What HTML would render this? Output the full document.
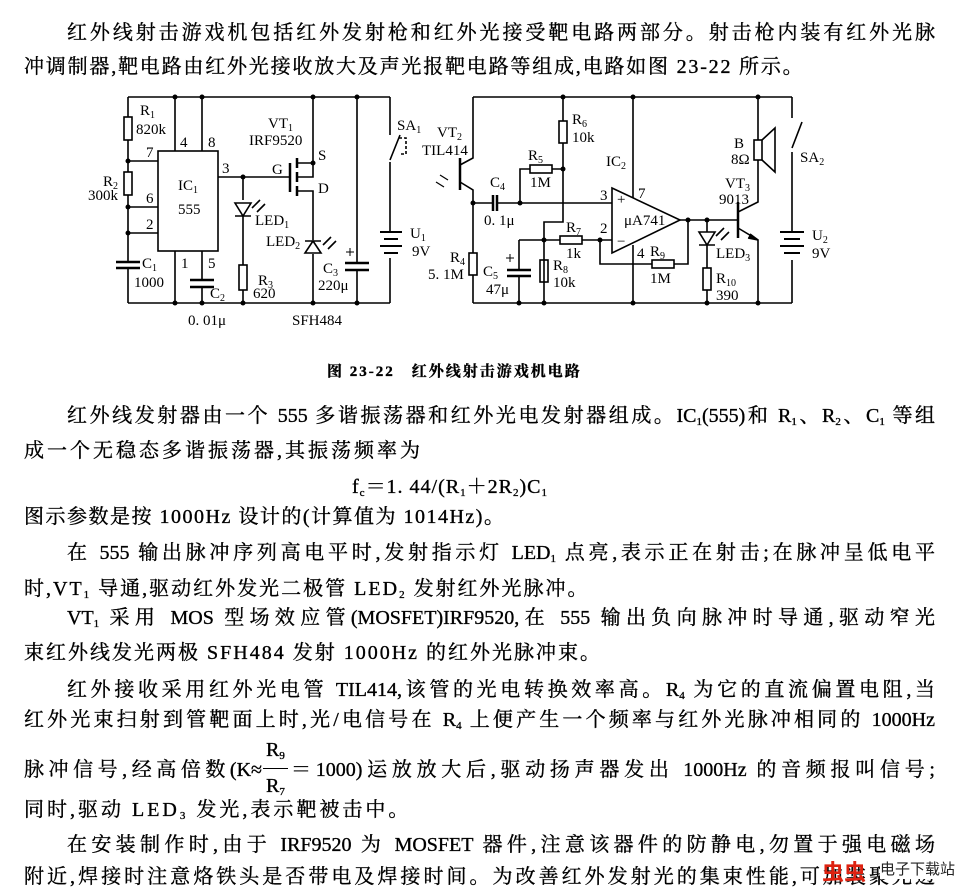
<!DOCTYPE html>
<html><head><meta charset="utf-8">
<style>
html,body{margin:0;padding:0;background:#fff;}
body{width:960px;height:890px;position:relative;overflow:hidden;font-family:"Liberation Serif","Noto Serif CJK SC","Noto Sans CJK SC",serif;color:#000;}
.l{position:absolute;font-size:20px;line-height:24px;white-space:nowrap;letter-spacing:3px;-webkit-text-stroke:0.35px #000;}
.j{text-align:justify;text-align-last:justify;letter-spacing:0;white-space:normal;overflow:hidden;height:24px;}
sub{font-size:11px;vertical-align:-3px;line-height:0;}
svg text{font-family:"Liberation Serif",serif;font-size:15px;}
</style></head><body>
<div class="l j" style="left:67px;top:21px;width:868px;">红外线射击游戏机包括红外发射枪和红外光接受靶电路两部分。射击枪内装有红外光脉</div>
<div class="l" style="left:24px;top:55px;letter-spacing:1.8px;">冲调制器,靶电路由红外光接收放大及声光报靶电路等组成,电路如图 23-22 所示。</div>

<svg style="position:absolute;left:0;top:0" width="960" height="340" viewBox="0 0 960 340" fill="none" stroke="#000" stroke-width="1.6">
<path d="M128 97 H390 M128 303 H390"/>
<path d="M128 97 V117 M128 140 V172 M128 195 V262 M128 268 V303"/>
<rect x="124" y="117" width="8" height="23"/><rect x="124" y="172" width="8" height="23"/>
<path d="M116 262 H140 M116 268 H140" stroke-width="2.5"/>
<path d="M128 161 H158 M128 207 H158 M128 233 H158"/>
<rect x="158" y="151" width="60" height="100"/>
<path d="M175 97 V151 M202 97 V151 M175 251 V303 M202 251 V280 M202 287 V303"/>
<path d="M190 280 H214 M190 287 H214" stroke-width="2.5"/>
<path d="M218 177 H290 M243 177 V200 M243 216 V265 M243 290 V303"/>
<rect x="239" y="265" width="8" height="25"/>
<path d="M235 203 H251 L243 216 Z M235 216 H251"/>
<path d="M252 208 l8 -8 M257 212 l8 -8"/>
<path d="M290 163 V192" stroke-width="2.5"/>
<path d="M297 158 V168 M297 172 V182 M297 186 V196" stroke-width="2.5"/>
<path d="M297 163 H313 V97 M297 191 H313 V240 M313 254 V303 M297 177 H313 V163"/>
<path d="M305 253 H321 L313 241 Z M305 241 H321"/>
<path d="M323 245 l8 -8 M328 249 l8 -8"/>
<path d="M357 97 V263 M357 270 V303"/>
<path d="M345 263 H369 M345 270 H369" stroke-width="2.5"/>
<path d="M346 252 h8 M350 248 v8" stroke-width="1"/>
<path d="M390 97 V135 M390 160 L400 135 M390 162 V232 M390 258 V303"/>
<path d="M399 138 h7 v16 h-7" stroke-dasharray="3 2"/>
<path d="M380 232 H402 M384 239 H398 M380 246 H402 M384 253 H398" stroke-width="2"/>
<path d="M473 97 H792 M473 303 H792"/>
<path d="M473 97 V158 L460 165 M460 182 L473 190 V253 M473 275 V303"/>
<path d="M460 158 V190" stroke-width="2.5"/>
<rect x="469" y="253" width="8" height="22"/>
<path d="M440 175 l8 5 M436 182 l8 5" stroke-width="1.2"/>
<path d="M473 203 H493 M497 203 H612"/>
<path d="M493 195 V211 M497 195 V211" stroke-width="2.5"/>
<path d="M520 203 V169 H530 M552 169 H563 M563 97 V121 M563 143 V222 H544 V303"/>
<rect x="530" y="165" width="22" height="8"/><rect x="559" y="121" width="8" height="22"/>
<path d="M519 240 H560 M582 240 H612 M519 240 V270 M519 276 V303"/>
<path d="M507 270 H531 M507 276 H531" stroke-width="2.5"/>
<path d="M506 258 h8 M510 254 v8" stroke-width="1"/>
<rect x="560" y="236" width="22" height="8"/><rect x="540" y="260" width="8" height="22"/>
<path d="M612 188 L680 220 L612 253 Z"/>
<path d="M600 240 V264 H652 M674 264 H688 V220 M680 220 H738"/>
<rect x="652" y="260" width="22" height="8"/>
<path d="M633 97 V198 M633 245 V303"/>
<path d="M707 220 V232 M707 245 V268 M707 290 V303"/>
<path d="M699 232 H715 L707 245 Z M699 245 H715"/>
<path d="M716 236 l8 -8 M721 240 l8 -8"/>
<rect x="703" y="268" width="8" height="22"/>
<path d="M738 202 V238" stroke-width="2.5"/>
<path d="M738 212 L758 202 V160 M758 140 V97 M738 228 L758 240 V303"/>
<path d="M750 234 L758 240 L748 238" fill="#000"/>
<rect x="754" y="140" width="8" height="20"/>
<path d="M762 140 L775 128 V172 L762 160"/>
<path d="M792 97 V118 M792 148 L802 122 M792 152 V232 M792 260 V303"/>
<path d="M780 232 H804 M784 239 H800 M780 246 H804 M784 253 H800" stroke-width="2"/>
<g fill="#000" stroke="none">
<circle cx="175" cy="97" r="2.5"/><circle cx="202" cy="97" r="2.5"/><circle cx="313" cy="97" r="2.5"/><circle cx="357" cy="97" r="2.5"/>
<circle cx="128" cy="161" r="2.5"/><circle cx="128" cy="207" r="2.5"/><circle cx="128" cy="233" r="2.5"/><circle cx="243" cy="177" r="2.5"/><circle cx="313" cy="163" r="2.5"/>
<circle cx="175" cy="303" r="2.5"/><circle cx="202" cy="303" r="2.5"/><circle cx="243" cy="303" r="2.5"/><circle cx="313" cy="303" r="2.5"/><circle cx="357" cy="303" r="2.5"/>
<circle cx="563" cy="97" r="2.5"/><circle cx="633" cy="97" r="2.5"/><circle cx="758" cy="97" r="2.5"/>
<circle cx="563" cy="169" r="2.5"/><circle cx="473" cy="203" r="2.5"/><circle cx="520" cy="203" r="2.5"/><circle cx="544" cy="240" r="2.5"/><circle cx="600" cy="240" r="2.5"/><circle cx="688" cy="220" r="2.5"/><circle cx="707" cy="220" r="2.5"/>
<circle cx="519" cy="303" r="2.5"/><circle cx="544" cy="303" r="2.5"/><circle cx="633" cy="303" r="2.5"/><circle cx="707" cy="303" r="2.5"/><circle cx="758" cy="303" r="2.5"/>
<text x="140" y="115">R<tspan font-size="10" dy="3">1</tspan></text><text x="136" y="134">820k</text>
<text x="103" y="186">R<tspan font-size="10" dy="3">2</tspan></text><text x="88" y="200">300k</text>
<text x="146" y="157">7</text><text x="146" y="203">6</text><text x="146" y="229">2</text>
<text x="180" y="147">4</text><text x="208" y="147">8</text><text x="222" y="173">3</text><text x="181" y="268">1</text><text x="208" y="268">5</text>
<text x="178" y="190">IC<tspan font-size="10" dy="3">1</tspan></text><text x="178" y="214">555</text>
<text x="142" y="268">C<tspan font-size="10" dy="3">1</tspan></text><text x="134" y="287">1000</text>
<text x="210" y="298">C<tspan font-size="10" dy="3">2</tspan></text><text x="188" y="325">0. 01μ</text>
<text x="258" y="285">R<tspan font-size="10" dy="3">3</tspan></text><text x="253" y="298">620</text>
<text x="255" y="225">LED<tspan font-size="10" dy="3">1</tspan></text><text x="266" y="246">LED<tspan font-size="10" dy="3">2</tspan></text>
<text x="268" y="128">VT<tspan font-size="10" dy="3">1</tspan></text><text x="249" y="145">IRF9520</text>
<text x="272" y="174">G</text><text x="318" y="160">S</text><text x="318" y="193">D</text>
<text x="323" y="273">C<tspan font-size="10" dy="3">3</tspan></text><text x="318" y="290">220μ</text><text x="292" y="325">SFH484</text>
<text x="397" y="130">SA<tspan font-size="10" dy="3">1</tspan></text>
<text x="410" y="238">U<tspan font-size="10" dy="3">1</tspan></text><text x="412" y="256">9V</text>
<text x="437" y="137">VT<tspan font-size="10" dy="3">2</tspan></text><text x="422" y="155">TIL414</text>
<text x="490" y="187">C<tspan font-size="10" dy="3">4</tspan></text><text x="484" y="225">0. 1μ</text>
<text x="528" y="160">R<tspan font-size="10" dy="3">5</tspan></text><text x="530" y="187">1M</text>
<text x="572" y="124">R<tspan font-size="10" dy="3">6</tspan></text><text x="572" y="142">10k</text>
<text x="606" y="166">IC<tspan font-size="10" dy="3">2</tspan></text>
<text x="600" y="200">3</text><text x="600" y="233">2</text><text x="617" y="204">+</text><text x="617" y="246">−</text><text x="638" y="198">7</text><text x="637" y="258">4</text>
<text x="624" y="225">μA741</text>
<text x="566" y="232">R<tspan font-size="10" dy="3">7</tspan></text><text x="566" y="258">1k</text>
<text x="450" y="262">R<tspan font-size="10" dy="3">4</tspan></text><text x="428" y="279">5. 1M</text>
<text x="483" y="276">C<tspan font-size="10" dy="3">5</tspan></text><text x="486" y="294">47μ</text>
<text x="553" y="270">R<tspan font-size="10" dy="3">8</tspan></text><text x="553" y="287">10k</text>
<text x="650" y="256">R<tspan font-size="10" dy="3">9</tspan></text><text x="650" y="283">1M</text>
<text x="716" y="258">LED<tspan font-size="10" dy="3">3</tspan></text>
<text x="716" y="283">R<tspan font-size="10" dy="3">10</tspan></text><text x="716" y="300">390</text>
<text x="725" y="188">VT<tspan font-size="10" dy="3">3</tspan></text><text x="719" y="204">9013</text>
<text x="734" y="148">B</text><text x="731" y="164">8Ω</text>
<text x="800" y="162">SA<tspan font-size="10" dy="3">2</tspan></text>
<text x="812" y="240">U<tspan font-size="10" dy="3">2</tspan></text><text x="812" y="258">9V</text>
</g>
</svg>

<div class="l" style="left:327px;top:360px;font-size:15px;letter-spacing:2px;font-weight:bold;">图 23-22　红外线射击游戏机电路</div>

<div class="l j" style="left:67px;top:404px;width:868px;">红外线发射器由一个 555 多谐振荡器和红外光电发射器组成。IC<sub>1</sub>(555)和 R<sub>1</sub>、R<sub>2</sub>、C<sub>1</sub> 等组</div>
<div class="l" style="left:24px;top:439px;">成一个无稳态多谐振荡器,其振荡频率为</div>
<div class="l" style="left:352px;top:475px;letter-spacing:1px;">f<sub>c</sub>＝1. 44/(R<sub>1</sub>＋2R<sub>2</sub>)C<sub>1</sub></div>
<div class="l" style="left:24px;top:505px;letter-spacing:1.5px;">图示参数是按 1000Hz 设计的(计算值为 1014Hz)。</div>
<div class="l j" style="left:67px;top:541px;width:868px;">在 555 输出脉冲序列高电平时,发射指示灯 LED<sub>1</sub> 点亮,表示正在射击;在脉冲呈低电平</div>
<div class="l" style="left:24px;top:577px;letter-spacing:2px;">时,VT<sub>1</sub> 导通,驱动红外发光二极管 LED<sub>2</sub> 发射红外光脉冲。</div>
<div class="l j" style="left:67px;top:606px;width:868px;">VT<sub>1</sub> 采用 MOS 型场效应管(MOSFET)IRF9520,在 555 输出负向脉冲时导通,驱动窄光</div>
<div class="l" style="left:24px;top:641px;letter-spacing:2px;">束红外线发光两极 SFH484 发射 1000Hz 的红外光脉冲束。</div>
<div class="l j" style="left:67px;top:678px;width:868px;">红外接收采用红外光电管 TIL414,该管的光电转换效率高。R<sub>4</sub> 为它的直流偏置电阻,当</div>
<div class="l j" style="left:24px;top:708px;width:911px;">红外光束扫射到管靶面上时,光/电信号在 R<sub>4</sub> 上便产生一个频率与红外光脉冲相同的 1000Hz</div>
<div class="l j" style="left:24px;top:758px;width:238px;">脉冲信号,经高倍数(K≈</div>
<div class="l" style="left:266px;top:738px;letter-spacing:0;">R<sub>9</sub></div>
<div style="position:absolute;left:263px;top:768px;width:25px;border-top:1.5px solid #000;"></div>
<div class="l" style="left:266px;top:774px;letter-spacing:0;">R<sub>7</sub></div>
<div class="l j" style="left:291px;top:758px;width:644px;">＝1000)运放放大后,驱动扬声器发出 1000Hz 的音频报叫信号;</div>
<div class="l" style="left:24px;top:798px;letter-spacing:3px;">同时,驱动 LED<sub>3</sub> 发光,表示靶被击中。</div>
<div class="l j" style="left:67px;top:833px;width:868px;">在安装制作时,由于 IRF9520 为 MOSFET 器件,注意该器件的防静电,勿置于强电磁场</div>
<div class="l j" style="left:24px;top:865px;width:911px;">附近,焊接时注意烙铁头是否带电及焊接时间。为改善红外发射光的集束性能,可加装聚光透</div>
<div style="position:absolute;left:822px;top:855px;font-family:'Noto Sans CJK SC',sans-serif;font-size:22px;color:#d21;font-weight:bold;">虫虫</div>
<div style="position:absolute;left:880px;top:858px;font-family:'Noto Sans CJK SC',sans-serif;font-size:15px;color:#222;background:#fff;">电子下载站</div>
</body></html>
